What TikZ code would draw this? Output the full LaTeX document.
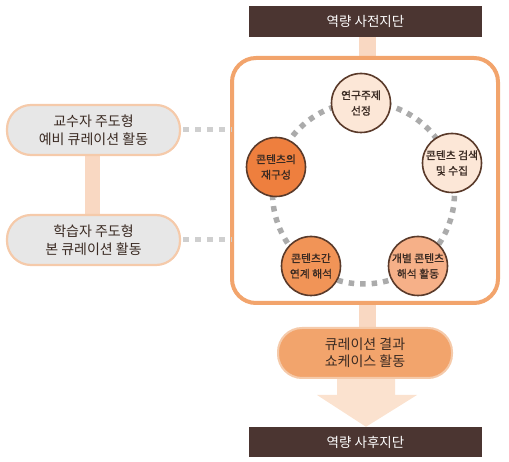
\documentclass[tikz,border=0pt]{standalone}
\usepackage{fontspec}
\setmainfont{Noto Sans CJK KR}
\newfontfamily\krb[FakeBold=1.2]{Noto Sans CJK KR}
\usetikzlibrary{calc}
\definecolor{darkbar}{HTML}{4B3531}
\definecolor{peach}{HTML}{F9D8C2}
\definecolor{arrowpeach}{HTML}{FBE2CF}
\definecolor{boxorange}{HTML}{F2A46C}
\definecolor{circborder}{HTML}{5A3A2A}
\definecolor{cpale}{HTML}{FCE7D7}
\definecolor{cmid}{HTML}{F6B088}
\definecolor{corange}{HTML}{F19457}
\definecolor{cstrong}{HTML}{EE7F3E}
\definecolor{lgray}{HTML}{E7E7E7}
\definecolor{lborder}{HTML}{F5CAAA}
\definecolor{dotgray}{HTML}{ABABAB}
\definecolor{dotlight}{HTML}{CFCFCF}
\definecolor{txt}{HTML}{3A2A22}
\tikzset{
  barnode/.style={fill=darkbar, text=white, minimum width=233pt, minimum height=31pt, inner sep=0pt, font=\fontsize{13.5}{15}\selectfont},
  bigbox/.style={draw=boxorange, line width=4pt, rounded corners=24pt, minimum width=266pt, minimum height=245pt, fill=white},
  circnode/.style={circle, draw=circborder, line width=1.6pt, minimum size=59pt, inner sep=0pt, align=center, text=txt, font=\krb\fontsize{10.8}{15.5}\selectfont},
  leftbox/.style={draw=lborder, fill=lgray, line width=2.2pt, rounded corners=24pt, minimum width=173pt, minimum height=50pt, align=center, text=txt, font=\fontsize{14}{17.5}\selectfont},
  showbox/.style={draw=lborder, fill=boxorange, line width=2pt, rounded corners=24pt, minimum width=174pt, minimum height=50pt, align=center, text=txt, font=\fontsize{14}{17.5}\selectfont},
  peachbar/.style={draw=peach, line width=17pt},
  dotring/.style={draw=dotgray, line width=5.5pt, dash pattern=on 5.5pt off 6pt},
  dotlink/.style={draw=dotlight, line width=5pt, dash pattern=on 6pt off 6pt}
}
\begin{document}
\begin{tikzpicture}[x=1pt,y=-1pt]
\useasboundingbox (0,0) rectangle (509,462);
% top and bottom bars
\node[barnode] (pre) at (365.5,21.5) {역량 사전지단};
\node[barnode, minimum height=30pt] (post) at (365.5,442) {역량 사후지단};
\coordinate (topjoin) at (367,62);
\draw[peachbar] (pre.south -| topjoin) -- (topjoin);
\coordinate (botjoin) at (367,300);
\coordinate (showtop) at (367,332);
\draw[peachbar] (botjoin) -- (showtop);
% arrow
\coordinate (arrtop) at (366,372);
\fill[arrowpeach] ($(arrtop)+(-29,0)$) -- ($(arrtop)+(-29,23)$) -- ($(arrtop)+(-49,23)$) -- (post.north -| arrtop) -- ($(arrtop)+(51,23)$) -- ($(arrtop)+(29,23)$) -- ($(arrtop)+(29,0)$) -- cycle;
\node[showbox] (show) at (365,353) {큐레이션 결과\\쇼케이스 활동};
% big box
\node[bigbox] (main) at (365,180.5) {};
% left boxes
\coordinate (lbar1) at (92.5,150);
\coordinate (lbar2) at (92.5,220);
\draw[peachbar, line width=15pt] (lbar1) -- (lbar2);
\node[leftbox] (lb1) at (93.5,130) {교수자 주도형\\예비 큐레이션 활동};
\node[leftbox] (lb2) at (93.5,240) {학습자 주도형\\본 큐레이션 활동};
\coordinate (l1end) at (232,130);
\coordinate (l2end) at (232,240);
\draw[dotlink] ($(lb1.east)+(2,0)$) -- (l1end);
\draw[dotlink] ($(lb2.east)+(2,0)$) -- (l2end);
% ring
\coordinate (ringc) at (363.5,193);
\draw[dotring] (ringc) circle [radius=91pt];
% circles
\node[circnode, fill=cpale] (c1) at (361,103) {연구주제\\선정};
\node[circnode, fill=cpale] (c2) at (452,163) {콘텐츠 검색\\및 수집};
\node[circnode, fill=cmid] (c3) at (418,266) {개별 콘텐츠\\해석 활동};
\node[circnode, fill=corange] (c4) at (311,266) {콘텐츠간\\연계 해석};
\node[circnode, fill=cstrong] (c5) at (276,167) {콘텐츠의\\재구성};
\end{tikzpicture}
\end{document}
